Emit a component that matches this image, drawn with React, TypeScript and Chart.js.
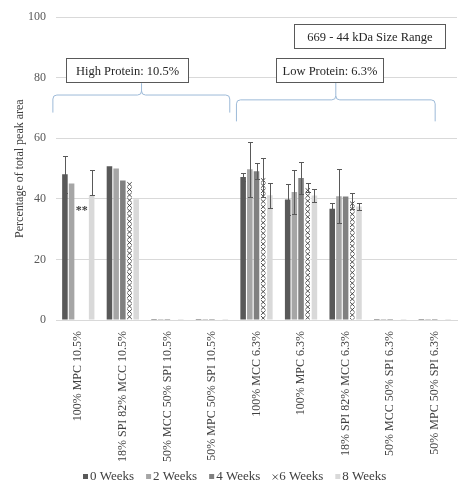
import React, { useEffect, useRef } from "react";
import { Chart, registerables } from "chart.js";

Chart.register(...registerables);

const categories = [
  "100% MPC 10.5%",
  "18% SPI 82% MCC 10.5%",
  "50% MCC 50% SPI 10.5%",
  "50% MPC 50% SPI 10.5%",
  "100% MCC 6.3%",
  "100% MPC 6.3%",
  "18% SPI 82% MCC 6.3%",
  "50% MCC 50% SPI 6.3%",
  "50% MPC 50% SPI 6.3%",
];

const seriesNames = ["0 Weeks", "2 Weeks", "4 Weeks", "6 Weeks", "8 Weeks"];

const week0 = [48.1, 50.8, 0.3, 0.3, 47.2, 39.8, 36.7, 0.3, 0.3];
const week2 = [45.1, 50.0, 0.3, 0.3, 49.8, 42.3, 40.9, 0.3, 0.3];
const week4 = [null, 46.1, 0.3, 0.3, 49.1, 46.9, 40.8, 0.3, 0.3];
const week6 = [null, 45.7, 0.3, 0.3, 47.0, 43.7, 39.3, 0.3, 0.3];
const week8 = [41.3, 39.9, 0.3, 0.3, 41.2, 41.1, 37.5, 0.3, 0.3];

// error bar extents above / below each mean
const week0ErrUp = [6.2, 0, 0, 0, 1.2, 5.0, 1.9, 0, 0];
const week0ErrDown = [6.2, 0, 0, 0, 1.2, 5.0, 1.9, 0, 0];
const week2ErrUp = [0, 0, 0, 0, 9.1, 7.3, 9.0, 0, 0];
const week2ErrDown = [0, 0, 0, 0, 9.1, 7.3, 9.0, 0, 0];
const week4ErrUp = [0, 0, 0, 0, 2.6, 5.3, 0, 0, 0];
const week4ErrDown = [0, 0, 0, 0, 2.6, 5.3, 0, 0, 0];
const week6ErrUp = [0, 0, 0, 0, 6.5, 1.4, 2.6, 0, 0];
const week6ErrDown = [0, 0, 0, 0, 6.5, 1.4, 2.6, 0, 0];
const week8ErrUp = [8.2, 0, 0, 0, 4.1, 2.1, 1.1, 0, 0];
const week8ErrDown = [0, 0, 0, 0, 4.1, 2.1, 1.1, 0, 0];

const yTicks = [0, 20, 40, 60, 80, 100];

const seriesValues = [week0, week2, week4, week6, week8];
const errUp = [week0ErrUp, week2ErrUp, week4ErrUp, week6ErrUp, week8ErrUp];
const errDown = [week0ErrDown, week2ErrDown, week4ErrDown, week6ErrDown, week8ErrDown];
const seriesColors = ["#595959", "#a6a6a6", "#808080", "#ffffff", "#d9d9d9"];
const HATCHED = 3;

const FONT = "'Liberation Serif', 'Times New Roman', serif";

function drawCrosses(ctx: CanvasRenderingContext2D, l: number, r: number, top: number, bottom: number, step: number) {
  ctx.beginPath();
  for (let t = top; t < bottom; t += step) {
    ctx.moveTo(l + 0.5, t + 0.5);
    ctx.lineTo(r - 0.5, t + step - 0.5);
    ctx.moveTo(r - 0.5, t + 0.5);
    ctx.lineTo(l + 0.5, t + step - 0.5);
  }
  ctx.stroke();
}

// white bars filled with a column of small crosses
const crossHatchPlugin = {
  id: "crossHatch",
  afterDatasetDraw(chart: any, args: any) {
    if (args.index !== HATCHED) return;
    const ctx = chart.ctx;
    ctx.save();
    ctx.strokeStyle = "#3a3a3a";
    ctx.lineWidth = 0.9;
    args.meta.data.forEach((bar: any) => {
      const { x, y, base, width } = bar.getProps(["x", "y", "base", "width"], true);
      if (!isFinite(y) || base - y < 3) return;
      const l = x - width / 2;
      const r = x + width / 2;
      ctx.save();
      ctx.beginPath();
      ctx.rect(l, y, width, base - y);
      ctx.clip();
      drawCrosses(ctx, l, r, y, base, 5.3);
      ctx.restore();
    });
    ctx.restore();
  },
};

const errorBarsPlugin = {
  id: "errorBars",
  afterDatasetsDraw(chart: any) {
    const ctx = chart.ctx;
    const yScale = chart.scales.y;
    ctx.save();
    ctx.strokeStyle = "#595959";
    ctx.lineWidth = 1;
    chart.data.datasets.forEach((ds: any, di: number) => {
      const meta = chart.getDatasetMeta(di);
      meta.data.forEach((bar: any, i: number) => {
        const v = ds.data[i];
        if (v == null) return;
        const u = errUp[di][i];
        const d = errDown[di][i];
        if (!u && !d) return;
        const x = Math.round(bar.x) + 0.5;
        const yT = Math.round(yScale.getPixelForValue(v + u)) + 0.5;
        const yB = Math.round(yScale.getPixelForValue(v - d)) + 0.5;
        ctx.beginPath();
        ctx.moveTo(x, yT);
        ctx.lineTo(x, yB);
        ctx.moveTo(x - 2.5, yT);
        ctx.lineTo(x + 2.5, yT);
        ctx.moveTo(x - 2.5, yB);
        ctx.lineTo(x + 2.5, yB);
        ctx.stroke();
      });
    });
    ctx.restore();
  },
};

// legend row under the category labels
const weekLegendPlugin = {
  id: "weekLegend",
  afterDraw(chart: any) {
    const ctx = chart.ctx;
    ctx.save();
    ctx.font = `13px ${FONT}`;
    ctx.textBaseline = "middle";
    ctx.textAlign = "left";
    const box = 5;
    const gapText = 2;
    const gapItem = 12;
    const widths = seriesNames.map((n) => box + gapText + ctx.measureText(n).width);
    const total = widths.reduce((a, b) => a + b, 0) + gapItem * (seriesNames.length - 1);
    let x = Math.round(chart.width / 2 + 1.5 - total / 2);
    const y = 477;
    seriesNames.forEach((name, i) => {
      const by = y - 3;
      if (i === HATCHED) {
        ctx.strokeStyle = "#404040";
        ctx.lineWidth = 0.9;
        drawCrosses(ctx, x, x + box + 1, by, by + box, box + 1);
      } else {
        ctx.fillStyle = seriesColors[i];
        ctx.fillRect(x, by, box, box);
      }
      ctx.fillStyle = "#404040";
      ctx.fillText(name, x + box + gapText, y);
      x += widths[i] + gapItem;
    });
    ctx.restore();
  },
};

// labelled boxes, braces and the "**" note, placed in axis units
const labelBoxes = [
  { text: "High Protein: 10.5%", x0: -0.27, x1: 2.47, yTop: 86.6, yBot: 78.7 },
  { text: "Low Protein: 6.3%", x0: 4.43, x1: 6.83, yTop: 86.6, yBot: 78.7 },
  { text: "669 - 44 kDa Size Range", x0: 4.84, x1: 8.22, yTop: 97.6, yBot: 89.8 },
];
const braces = [
  { x0: -0.57, x1: 3.4, xm: 1.42, yLine: 74.3, yEnd: 68.5, yPeak: 78.2 },
  { x0: 3.55, x1: 8.01, xm: 5.78, yLine: 72.7, yEnd: 65.6, yPeak: 78.7 },
];
const noteMark = { text: "**", x: 0.08, y: 36.4 };

const annotationPlugin = {
  id: "annotations",
  afterDraw(chart: any) {
    const ctx = chart.ctx;
    const xs = chart.scales.x;
    const ys = chart.scales.y;
    const px = (v: number) => xs.getPixelForValue(v);
    const py = (v: number) => ys.getPixelForValue(v);
    ctx.save();

    // braces
    ctx.strokeStyle = "#9dbad8";
    ctx.lineWidth = 1;
    braces.forEach((b) => {
      const x0 = px(b.x0), x1 = px(b.x1), xm = px(b.xm);
      const yl = py(b.yLine), ye = py(b.yEnd), yp = py(b.yPeak);
      const r = 4;
      ctx.beginPath();
      ctx.moveTo(x0, ye);
      ctx.lineTo(x0, yl + r);
      ctx.quadraticCurveTo(x0, yl, x0 + r, yl);
      ctx.lineTo(xm - r, yl);
      ctx.quadraticCurveTo(xm, yl, xm, yl - r);
      ctx.lineTo(xm, yp);
      ctx.moveTo(xm, yl - r);
      ctx.quadraticCurveTo(xm, yl, xm + r, yl);
      ctx.lineTo(x1 - r, yl);
      ctx.quadraticCurveTo(x1, yl, x1, yl + r);
      ctx.lineTo(x1, ye);
      ctx.stroke();
    });

    // boxes
    ctx.font = `12.5px ${FONT}`;
    ctx.textAlign = "center";
    ctx.textBaseline = "middle";
    labelBoxes.forEach((b) => {
      const l = Math.round(px(b.x0)) + 0.5;
      const r = Math.round(px(b.x1)) + 0.5;
      const t = Math.round(py(b.yTop)) + 0.5;
      const bt = Math.round(py(b.yBot)) + 0.5;
      ctx.fillStyle = "#ffffff";
      ctx.fillRect(l, t, r - l, bt - t);
      ctx.strokeStyle = "#595959";
      ctx.strokeRect(l, t, r - l, bt - t);
      ctx.fillStyle = "#262626";
      ctx.fillText(b.text, (l + r) / 2, (t + bt) / 2 + 1);
    });

    ctx.font = `bold 12px ${FONT}`;
    ctx.fillStyle = "#404040";
    ctx.fillText(noteMark.text, px(noteMark.x), py(noteMark.y) + 1);
    ctx.restore();
  },
};

export default function App() {
  const ref = useRef<HTMLCanvasElement | null>(null);

  useEffect(() => {
    if (!ref.current) return;
    const chart = new Chart(ref.current, {
      type: "bar",
      data: {
        labels: categories,
        datasets: seriesNames.map((name, i) => ({
          label: name,
          data: seriesValues[i],
          backgroundColor: seriesColors[i],
          borderWidth: 0,
          categoryPercentage: 0.75,
          barPercentage: 0.83,
        })),
      },
      options: {
        responsive: true,
        maintainAspectRatio: false,
        animation: false,
        layout: { padding: { top: 15, right: 10, left: 0, bottom: 0 } },
        plugins: {
          tooltip: { enabled: false },
          legend: { display: false },
        },
        scales: {
          x: {
            afterFit(scale: any) {
              scale.height = 168;
            },
            grid: { display: false },
            border: { display: true, color: "#d9d9d9" },
            ticks: {
              autoSkip: false,
              maxRotation: 90,
              minRotation: 90,
              padding: 3,
              color: "#404040",
              font: { family: FONT, size: 12 },
            },
          },
          y: {
            min: 0,
            max: 100,
            afterFit(scale: any) {
              scale.width = 56;
            },
            afterBuildTicks(scale: any) {
              scale.ticks = yTicks.map((v) => ({ value: v }));
            },
            grid: { color: "#d9d9d9", drawTicks: false },
            border: { display: false },
            title: {
              display: true,
              text: "Percentage of total peak area",
              color: "#404040",
              font: { family: FONT, size: 12 },
              padding: { top: 13, bottom: 0 },
            },
            ticks: {
              padding: 10,
              color: "#595959",
              font: { family: FONT, size: 12 },
            },
          },
        },
      },
      plugins: [crossHatchPlugin, errorBarsPlugin, annotationPlugin, weekLegendPlugin],
    });
    return () => chart.destroy();
  }, []);

  return (
    <div style={{ position: "fixed", left: 0, top: 0, width: 467, height: 488, background: "#ffffff" }}>
      <canvas ref={ref} />
    </div>
  );
}
